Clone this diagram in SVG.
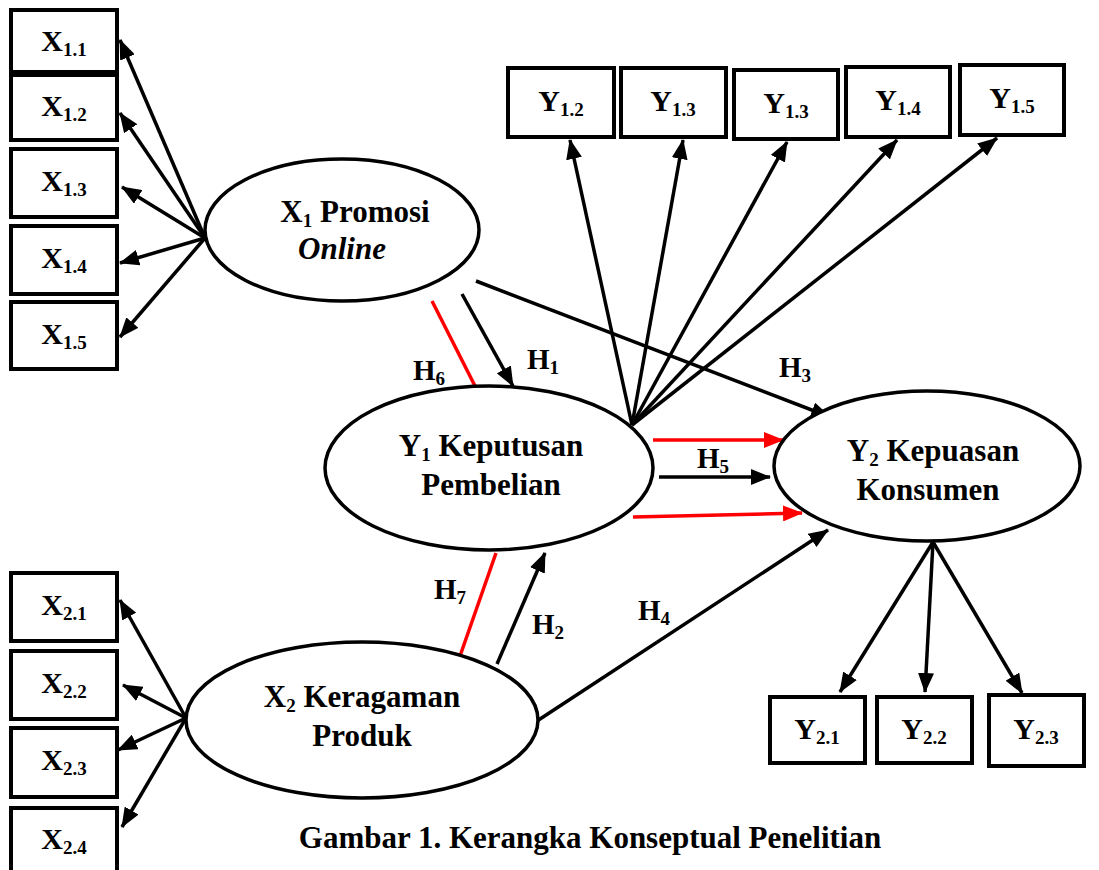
<svg xmlns="http://www.w3.org/2000/svg" width="1099" height="870" viewBox="0 0 1099 870">
<style>
.box{fill:#fff;stroke:#000;stroke-width:4}
.ell{fill:#fff;stroke:#000;stroke-width:3.5}
.bl{font-family:"Liberation Serif","Times New Roman",serif;font-weight:bold;font-size:30px;text-anchor:middle;fill:#000}
.nl{font-family:"Liberation Serif","Times New Roman",serif;font-weight:bold;font-size:31px;text-anchor:middle;fill:#000}
.hl{font-family:"Liberation Serif","Times New Roman",serif;font-weight:bold;font-size:29px;fill:#000}
.sub{font-size:19px}
.c{stroke:#000;stroke-width:3.5;fill:none;marker-end:url(#ah)}
.r{stroke:#f00;stroke-width:3.5;fill:none}
.ra{stroke:#f00;stroke-width:3.5;fill:none;marker-end:url(#ahr)}
</style>
<defs>
<marker id="ah" markerUnits="userSpaceOnUse" markerWidth="20" markerHeight="16" refX="19" refY="8" orient="auto"><path d="M0,0 L20,8 L0,16 Z" fill="#000"/></marker>
<marker id="ahr" markerUnits="userSpaceOnUse" markerWidth="20" markerHeight="16" refX="19" refY="8" orient="auto"><path d="M0,0 L20,8 L0,16 Z" fill="#f00"/></marker>
</defs>
<rect width="1099" height="870" fill="#fff"/>

<g id="connectors">
<line class="c" x1="205" y1="238" x2="120" y2="40"/>
<line class="c" x1="205" y1="238" x2="120" y2="113"/>
<line class="c" x1="205" y1="238" x2="122" y2="187"/>
<line class="c" x1="205" y1="238" x2="120" y2="263"/>
<line class="c" x1="205" y1="238" x2="120" y2="337"/>
<line class="c" x1="186" y1="718" x2="120" y2="600"/>
<line class="c" x1="186" y1="718" x2="123" y2="685"/>
<line class="c" x1="186" y1="718" x2="118" y2="750"/>
<line class="c" x1="186" y1="718" x2="122" y2="827"/>
<line class="c" x1="632" y1="425" x2="570" y2="140"/>
<line class="c" x1="632" y1="425" x2="683" y2="140"/>
<line class="c" x1="632" y1="425" x2="787" y2="142"/>
<line class="c" x1="632" y1="425" x2="897" y2="140"/>
<line class="c" x1="632" y1="425" x2="997" y2="138"/>
<line class="c" x1="933" y1="542" x2="840" y2="692"/>
<line class="c" x1="933" y1="542" x2="925" y2="692"/>
<line class="c" x1="933" y1="542" x2="1022" y2="693"/>
<line class="c" x1="462" y1="294" x2="513" y2="386"/>
<line class="r" x1="432" y1="301" x2="476" y2="388"/>
<line class="c" x1="476" y1="281" x2="830" y2="417"/>
<line class="ra" x1="653" y1="440" x2="783" y2="440"/>
<line class="c" x1="659" y1="477" x2="770" y2="477"/>
<line class="ra" x1="633" y1="517" x2="802" y2="513"/>
<line class="c" x1="537" y1="721" x2="828" y2="530"/>
<line class="c" x1="497" y1="664" x2="545" y2="553"/>
<line class="r" x1="460" y1="656" x2="496" y2="553"/>
</g>

<g id="labels-h">
<text class="hl" x="527" y="369">H<tspan class="sub" dy="5">1</tspan></text>
<text class="hl" x="413" y="380">H<tspan class="sub" dy="5">6</tspan></text>
<text class="hl" x="779" y="377">H<tspan class="sub" dy="5">3</tspan></text>
<text class="hl" x="697" y="468">H<tspan class="sub" dy="5">5</tspan></text>
<text class="hl" x="434" y="599">H<tspan class="sub" dy="5">7</tspan></text>
<text class="hl" x="532" y="634">H<tspan class="sub" dy="5">2</tspan></text>
<text class="hl" x="638" y="620">H<tspan class="sub" dy="5">4</tspan></text>
</g>

<g id="X1.1"><rect class="box" x="11" y="10" width="106" height="62"/><text class="bl" x="64" y="51">X<tspan class="sub" dy="5">1.1</tspan></text></g>
<g id="X1.2"><rect class="box" x="11" y="75" width="106" height="65"/><text class="bl" x="64" y="116">X<tspan class="sub" dy="5">1.2</tspan></text></g>
<g id="X1.3"><rect class="box" x="11" y="149" width="106" height="68"/><text class="bl" x="64" y="191">X<tspan class="sub" dy="5">1.3</tspan></text></g>
<g id="X1.4"><rect class="box" x="11" y="226" width="106" height="68"/><text class="bl" x="64" y="268">X<tspan class="sub" dy="5">1.4</tspan></text></g>
<g id="X1.5"><rect class="box" x="11" y="302" width="106" height="67"/><text class="bl" x="64" y="344">X<tspan class="sub" dy="5">1.5</tspan></text></g>

<g id="X2.1"><rect class="box" x="11" y="573" width="106" height="68"/><text class="bl" x="64" y="615">X<tspan class="sub" dy="5">2.1</tspan></text></g>
<g id="X2.2"><rect class="box" x="11" y="651" width="106" height="68"/><text class="bl" x="64" y="693">X<tspan class="sub" dy="5">2.2</tspan></text></g>
<g id="X2.3"><rect class="box" x="11" y="728" width="106" height="69"/><text class="bl" x="64" y="770">X<tspan class="sub" dy="5">2.3</tspan></text></g>
<g id="X2.4"><rect class="box" x="11" y="808" width="106" height="70"/><text class="bl" x="64" y="849">X<tspan class="sub" dy="5">2.4</tspan></text></g>

<g id="Y1.2a"><rect class="box" x="508" y="68" width="106" height="69"/><text class="bl" x="561" y="111">Y<tspan class="sub" dy="5">1.2</tspan></text></g>
<g id="Y1.3a"><rect class="box" x="621" y="68" width="105" height="69"/><text class="bl" x="673" y="111">Y<tspan class="sub" dy="5">1.3</tspan></text></g>
<g id="Y1.3b"><rect class="box" x="734" y="70" width="104" height="69"/><text class="bl" x="786" y="113">Y<tspan class="sub" dy="5">1.3</tspan></text></g>
<g id="Y1.4"><rect class="box" x="846" y="67" width="104" height="70"/><text class="bl" x="898" y="110">Y<tspan class="sub" dy="5">1.4</tspan></text></g>
<g id="Y1.5"><rect class="box" x="960" y="65" width="104" height="70"/><text class="bl" x="1012" y="108">Y<tspan class="sub" dy="5">1.5</tspan></text></g>

<g id="Y2.1"><rect class="box" x="770" y="697" width="95" height="66"/><text class="bl" x="817" y="739">Y<tspan class="sub" dy="5">2.1</tspan></text></g>
<g id="Y2.2"><rect class="box" x="877" y="697" width="95" height="66"/><text class="bl" x="924" y="739">Y<tspan class="sub" dy="5">2.2</tspan></text></g>
<g id="Y2.3"><rect class="box" x="989" y="695" width="95" height="71"/><text class="bl" x="1036" y="739">Y<tspan class="sub" dy="5">2.3</tspan></text></g>

<g id="X1"><ellipse class="ell" cx="342" cy="230" rx="137" ry="71"/>
<text class="nl" x="355" y="222">X<tspan class="sub" dy="5">1</tspan><tspan dy="-5"> Promosi</tspan></text>
<text class="nl" x="342" y="259" font-style="italic">Online</text></g>

<g id="Y1"><ellipse class="ell" cx="489" cy="468" rx="164" ry="82"/>
<text class="nl" x="491" y="456">Y<tspan class="sub" dy="5">1</tspan><tspan dy="-5"> Keputusan</tspan></text>
<text class="nl" x="491" y="495">Pembelian</text></g>

<g id="Y2"><ellipse class="ell" cx="927" cy="466" rx="153" ry="75"/>
<text class="nl" x="933" y="461">Y<tspan class="sub" dy="5">2</tspan><tspan dy="-5"> Kepuasan</tspan></text>
<text class="nl" x="928" y="500">Konsumen</text></g>

<g id="X2"><ellipse class="ell" cx="362" cy="720" rx="176" ry="78"/>
<text class="nl" x="362" y="707">X<tspan class="sub" dy="5">2</tspan><tspan dy="-5"> Keragaman</tspan></text>
<text class="nl" x="362" y="746">Produk</text></g>

<g id="caption"><text class="nl" x="590" y="848" font-size="32">Gambar 1. Kerangka Konseptual Penelitian</text></g>
</svg>
